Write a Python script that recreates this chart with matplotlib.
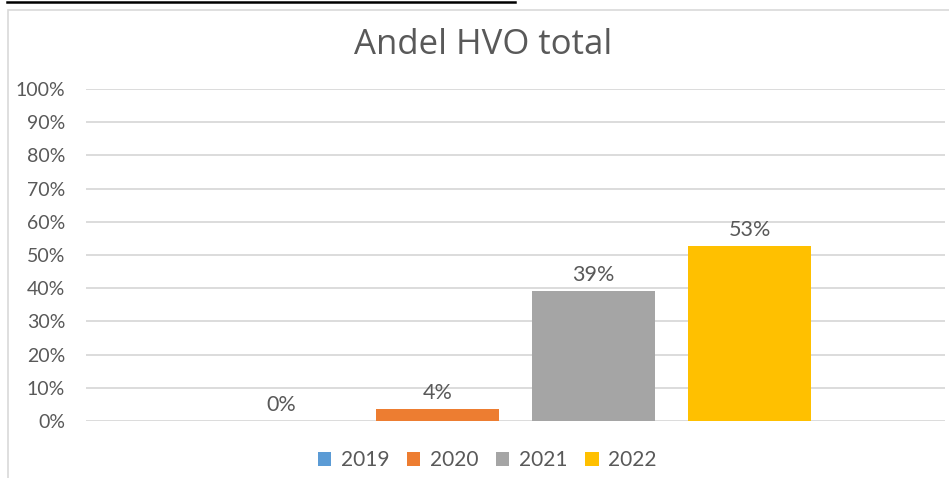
import matplotlib.pyplot as plt
from matplotlib.patches import Rectangle
from matplotlib.lines import Line2D
from matplotlib.ticker import PercentFormatter

years = ['2019', '2020', '2021', '2022']
share = [0.0, 3.7, 39.2, 52.7]
colors = ['#5B9BD5', '#ED7D31', '#A5A5A5', '#FFC000']
yticks = list(range(0, 101, 10))

TXT = '#595959'
plt.rcParams['font.family'] = ['Lato', 'DejaVu Sans']

W, H = 949, 478
fig = plt.figure(figsize=(W / 100, H / 100), dpi=100)

# chart frame and the cut-off underline above it
fig.patches.append(Rectangle((8 / W, -0.1), 1.2, 1 - 10 / H + 0.1, transform=fig.transFigure,
                             fill=False, edgecolor='#d9d9d9', lw=1.2))
fig.lines.append(Line2D([7 / W, 515 / W], [1 - 2 / H, 1 - 2 / H], transform=fig.transFigure,
                        color='black', lw=1.8))

ax = fig.add_axes([86 / W, 1 - 421 / H, (945 - 86) / W, (421 - 89) / H])
slot = 156 / (945 - 86)
bw = slot * 123 / 156
for i, (yr, v, c) in enumerate(zip(years, share, colors)):
    x = (i - 1.5) * slot
    ax.bar(x, v, width=bw, color=c, label=yr, zorder=3)
    ax.annotate(f'{v:.0f}%', (x, v), xytext=(0, 4), textcoords='offset points',
                ha='center', va='bottom', fontsize=15.5, color=TXT)

ax.set_xlim(-0.5, 0.5)
ax.set_ylim(0, 100)
ax.set_yticks(yticks)
ax.yaxis.set_major_formatter(PercentFormatter(decimals=0))
ax.set_xticks([])
ax.tick_params(axis='y', length=0, pad=15, labelsize=14, labelcolor=TXT)
ax.grid(axis='y', color='#d9d9d9', lw=1.3, zorder=0)
for s in ax.spines.values():
    s.set_visible(False)

fig.text(483 / W, 1 - 45 / H, 'Andel HVO total', ha='center', va='center',
         fontsize=25, color=TXT, family=['Open Sans', 'DejaVu Sans'])

fig.legend(loc='center', bbox_to_anchor=(487 / W, 1 - 460 / H), ncol=4, frameon=False,
           fontsize=15, labelcolor=TXT, handlelength=0.65, handleheight=0.65,
           handletextpad=0.45, columnspacing=0.85)

fig.savefig('out.png', dpi=100)
